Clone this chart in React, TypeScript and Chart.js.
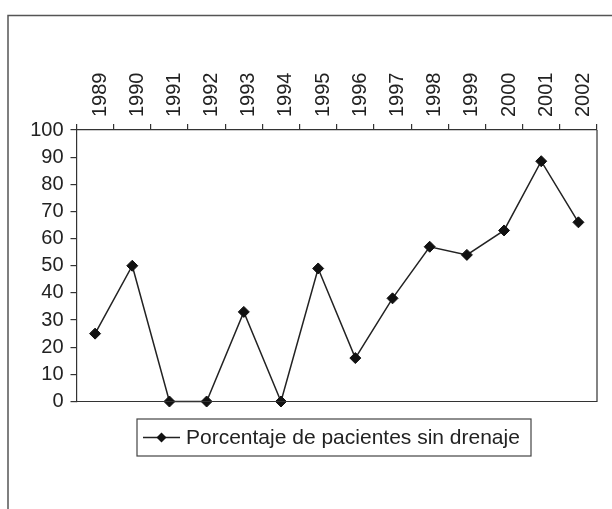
import React, { useEffect, useRef } from 'react';
import { Chart, registerables } from 'chart.js';

Chart.register(...registerables);

const years = ['1989', '1990', '1991', '1992', '1993', '1994', '1995', '1996', '1997', '1998', '1999', '2000', '2001', '2002'];
const percentages = [25, 50, 0, 0, 33, 0, 49, 16, 38, 57, 54, 63, 88.5, 66];
const seriesLabel = 'Porcentaje de pacientes sin drenaje';
const yMin = 0;
const yMax = 100;
const yStep = 10;

const FONT = '"Liberation Sans", Arial, Helvetica, sans-serif';
const INK = '#222222';

const framePlugin = {
  id: 'framePlugin',
  beforeDraw(chart: any) {
    const ctx = chart.ctx;
    ctx.save();
    ctx.fillStyle = '#ffffff';
    ctx.fillRect(0, 0, chart.width, chart.height);
    ctx.strokeStyle = '#555555';
    ctx.lineWidth = 1.5;
    ctx.strokeRect(8, 15.5, chart.width + 20, chart.height + 20);
    ctx.restore();
  },
  afterDraw(chart: any) {
    const ctx = chart.ctx;
    const a = chart.chartArea;
    ctx.save();
    // right and bottom borders of plot area
    ctx.strokeStyle = '#333333';
    ctx.lineWidth = 1.2;
    ctx.beginPath();
    ctx.moveTo(a.left, a.bottom);
    ctx.lineTo(a.right, a.bottom);
    ctx.lineTo(a.right, a.top);
    ctx.stroke();

    // legend box
    const bx = 137, by = 419, bw = 394, bh = 37;
    ctx.strokeStyle = '#444444';
    ctx.lineWidth = 1.2;
    ctx.strokeRect(bx, by, bw, bh);
    const cy = by + bh / 2;
    ctx.strokeStyle = INK;
    ctx.lineWidth = 1.5;
    ctx.beginPath();
    ctx.moveTo(143, cy);
    ctx.lineTo(180, cy);
    ctx.stroke();
    ctx.fillStyle = '#111111';
    ctx.beginPath();
    const mx = 161.5, r = 5;
    ctx.moveTo(mx, cy - r);
    ctx.lineTo(mx + r, cy);
    ctx.lineTo(mx, cy + r);
    ctx.lineTo(mx - r, cy);
    ctx.closePath();
    ctx.fill();
    ctx.fillStyle = INK;
    ctx.font = `21px ${FONT}`;
    ctx.textAlign = 'left';
    ctx.textBaseline = 'middle';
    ctx.fillText(chart.data.datasets[0].label, 186, cy + 1);
    ctx.restore();
  },
};

export default function App() {
  const ref = useRef<HTMLCanvasElement>(null);

  useEffect(() => {
    if (!ref.current) return;
    const chart = new Chart(ref.current, {
      type: 'line',
      data: {
        labels: years,
        datasets: [
          {
            label: seriesLabel,
            data: percentages,
            borderColor: INK,
            borderWidth: 1.5,
            pointStyle: 'rectRot',
            pointRadius: 5.5,
            pointBackgroundColor: '#111111',
            pointBorderColor: '#111111',
            pointBorderWidth: 1,
            tension: 0,
            clip: false as any,
          },
        ],
      },
      options: {
        responsive: false,
        animation: false,
        devicePixelRatio: 1,
        layout: { padding: { left: 0, top: 0, right: 15, bottom: 107.5 } },
        plugins: {
          legend: { display: false },
          tooltip: { enabled: false },
          title: { display: false },
        },
        scales: {
          x: {
            type: 'category',
            position: 'top',
            offset: true,
            afterFit: (s: any) => {
              s.height = 130;
            },
            grid: {
              display: true,
              offset: true,
              drawOnChartArea: false,
              drawTicks: true,
              tickLength: 6,
              color: '#333333',
              lineWidth: 1.2,
            },
            border: { display: true, color: '#333333', width: 1.2 },
            ticks: {
              minRotation: 90,
              maxRotation: 90,
              autoSkip: false,
              padding: 7,
              labelOffset: 29,
              color: INK,
              font: { family: FONT, size: 20 },
            },
          },
          y: {
            min: yMin,
            max: yMax,
            afterFit: (s: any) => {
              s.width = 76.5;
            },
            grid: {
              display: true,
              drawOnChartArea: false,
              drawTicks: true,
              tickLength: 6,
              color: '#333333',
              lineWidth: 1.2,
            },
            border: { display: true, color: '#333333', width: 1.2 },
            ticks: {
              stepSize: yStep,
              padding: 7,
              color: INK,
              font: { family: FONT, size: 20 },
            },
          },
        },
      },
      plugins: [framePlugin],
    });
    return () => chart.destroy();
  }, []);

  return (
    <div style={{ position: 'absolute', left: 0, top: 0, width: 612, height: 509, background: '#fff' }}>
      <canvas ref={ref} width={612} height={509} style={{ width: 612, height: 509, display: 'block' }} />
    </div>
  );
}
